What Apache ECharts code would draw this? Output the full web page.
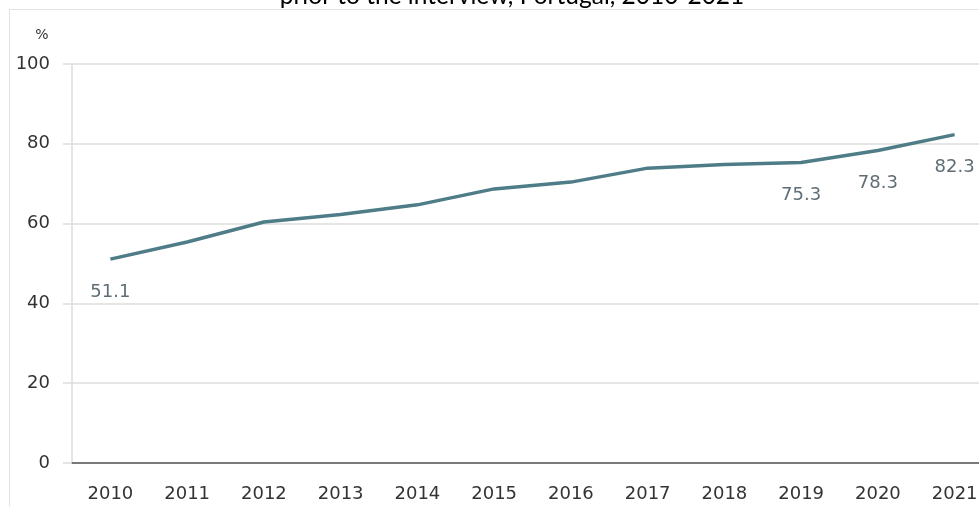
<!DOCTYPE html>
<html>
<head>
<meta charset="utf-8">
<script src="https://cdn.jsdelivr.net/npm/echarts@6/dist/echarts.min.js"></script>
<style>
  html, body { margin: 0; padding: 0; background: #fff; overflow: hidden; }
  #frame { position: absolute; left: 9px; top: 9px; width: 980px; height: 510px; border: 1px solid #e3e3e3; box-sizing: border-box; }
  #chart { position: absolute; left: 0; top: 0; width: 1010px; height: 506px; }
</style>
</head>
<body>
<div id="frame"></div>
<div id="chart"></div>
<script>
const years = ['2010', '2011', '2012', '2013', '2014', '2015', '2016', '2017', '2018', '2019', '2020', '2021'];
const shares = [51.1, 55.4, 60.4, 62.3, 64.7, 68.7, 70.4, 73.9, 74.8, 75.3, 78.3, 82.3];
// only these years carry a value label
const labelledYears = ['2010', '2019', '2020', '2021'];
const yTicks = [0, 20, 40, 60, 80, 100];

const chart = echarts.init(document.getElementById('chart'));

const option = {
  animation: false,
  title: {
    text: 'prior to the interview, Portugal, 2010-2021',
    left: 507,
    textAlign: 'center',
    top: -21,
    textStyle: {
      fontFamily: 'Lato',
      fontSize: 24.5,
      fontWeight: 'normal',
      color: '#000'
    }
  },
  grid: {
    left: 72,
    right: 17,
    top: 64,
    bottom: 43
  },
  xAxis: {
    type: 'category',
    data: years,
    axisLine: { lineStyle: { color: '#555', width: 1.5 } },
    axisTick: { length: 8, lineStyle: { color: '#555', width: 1.5 } },
    axisLabel: {
      margin: 22,
      fontFamily: 'DejaVu Sans',
      fontSize: 18,
      color: '#333'
    }
  },
  yAxis: {
    type: 'value',
    min: yTicks[0],
    max: yTicks[yTicks.length - 1],
    interval: 20,
    name: '%',
    nameLocation: 'end',
    nameGap: 22,
    nameTextStyle: {
      fontFamily: 'DejaVu Sans',
      fontSize: 14,
      color: '#333',
      align: 'center',
      padding: [0, 60, 0, 0]
    },
    axisLine: { show: true, lineStyle: { color: '#dddddd', width: 1.5 } },
    axisTick: { show: true, length: 9, lineStyle: { color: '#dddddd', width: 1.5 } },
    splitLine: { lineStyle: { color: '#dddddd', width: 1.5 } },
    axisLabel: {
      margin: 22,
      fontFamily: 'DejaVu Sans',
      fontSize: 18,
      color: '#333'
    }
  },
  series: [{
    type: 'line',
    data: shares,
    showSymbol: true,
    symbol: 'circle',
    symbolSize: 0,
    lineStyle: { color: '#4e7c87', width: 3.5 },
    label: {
      show: true,
      position: 'bottom',
      distance: 24,
      fontFamily: 'DejaVu Sans',
      fontSize: 18,
      color: '#5f6e75',
      formatter: p => labelledYears.includes(p.name) ? p.value.toFixed(1) : ''
    }
  }]
};

chart.setOption(option);
window.addEventListener('resize', () => chart.resize());
</script>
</body>
</html>
